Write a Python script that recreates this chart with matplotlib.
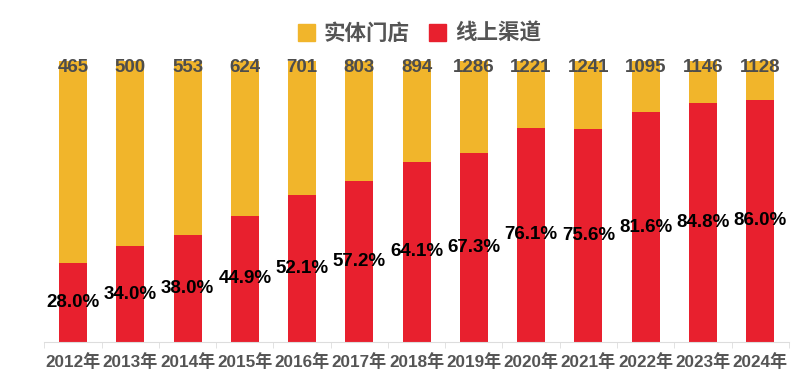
import matplotlib
matplotlib.use("Agg")
import matplotlib.pyplot as plt
import numpy as np
from matplotlib.patches import Patch

plt.rcParams['font.family'] = ['Liberation Sans', 'Noto Sans CJK SC', 'DejaVu Sans']

years = ['2012年', '2013年', '2014年', '2015年', '2016年', '2017年', '2018年',
         '2019年', '2020年', '2021年', '2022年', '2023年', '2024年']
totals = [465, 500, 553, 624, 701, 803, 894, 1286, 1221, 1241, 1095, 1146, 1128]
online_pct = [28.0, 34.0, 38.0, 44.9, 52.1, 57.2, 64.1, 67.3, 76.1, 75.6, 81.6, 84.8, 86.0]

YELLOW = '#F1B52B'
RED = '#E8202E'

online = np.array(online_pct) / 100
store = 1 - online
x = np.arange(len(years))

fig = plt.figure(figsize=(8, 3.81), dpi=100)
ax = fig.add_axes([0.0555, 0.1024, 0.9305, 0.7386])

ax.bar(x, online, width=0.49, color=RED)
ax.bar(x, store, width=0.49, bottom=online, color=YELLOW)

# percent labels in the middle of the red part
for i, v in enumerate(online):
    ax.text(x[i], v / 2, '%.1f%%' % online_pct[i], ha='center', va='center',
            fontsize=13.5, fontweight='bold', color='black')

# totals at the top of each bar
for i, t in enumerate(totals):
    ax.text(x[i], 0.975, str(t), ha='center', va='center',
            fontsize=13.5, fontweight='bold', color='#4d4d4d')

ax.set_xlim(-0.5, len(years) - 0.5)
ax.set_ylim(0, 1)
ax.set_xticks(x)
ax.set_xticklabels(years, fontsize=12.3, fontweight='bold', color='#555555')
ax.set_xticks(np.arange(-0.5, len(years), 1), minor=True)
ax.tick_params(axis='x', which='major', length=0, pad=8)
ax.tick_params(axis='x', which='minor', length=4, color='#dddddd')
ax.set_yticks([])
for s in ['top', 'right', 'left']:
    ax.spines[s].set_visible(False)
ax.spines['bottom'].set_color('#dddddd')

handles = [Patch(color=YELLOW, label='实体门店'), Patch(color=RED, label='线上渠道')]
fig.legend(handles=handles, loc='center', bbox_to_anchor=(0.524, 0.913), ncol=2,
           frameon=False, handlelength=0.8, handleheight=0.8, handletextpad=0.4,
           columnspacing=0.9,
           prop={'family': ['Noto Sans CJK SC'], 'weight': 'bold', 'size': 15.5})
for t in fig.legends[0].get_texts():
    t.set_color('#555555')

fig.savefig('out.png', dpi=100)
